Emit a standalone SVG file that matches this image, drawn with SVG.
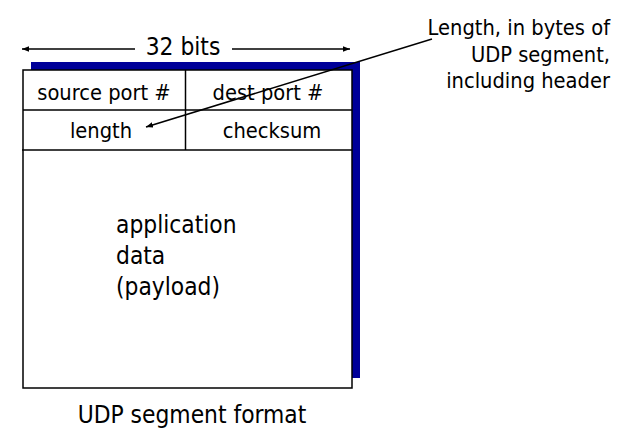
<svg xmlns="http://www.w3.org/2000/svg" width="625" height="440" viewBox="0 0 625 440">
<style>
text{font-family:"DejaVu Sans Condensed","DejaVu Sans",sans-serif;font-stretch:condensed;fill:#000}
.h{font-size:21.7px}
.b{font-size:24.3px}
.ln{stroke:#000;stroke-width:1.5;fill:none}
</style>
<defs>
<marker id="ah" viewBox="0 0 10 10" refX="10" refY="5" markerWidth="7" markerHeight="7" markerUnits="userSpaceOnUse" orient="auto"><path d="M0,1 L10,5 L0,9 Z" fill="#000"/></marker>
</defs>
<rect width="625" height="440" fill="#fff"/>
<g id="segment">
<rect x="31" y="62" width="329" height="316" fill="#000099"/>
<rect x="23" y="70" width="329" height="318" fill="#fff" stroke="#000" stroke-width="1.5"/>
<line x1="23" y1="110" x2="352" y2="110" class="ln"/>
<line x1="22" y1="150" x2="352" y2="150" class="ln"/>
<line x1="185.5" y1="70" x2="185.5" y2="150" class="ln"/>
</g>
<g id="src"><text class="h" x="104" y="100" text-anchor="middle">source port #</text></g>
<g id="dst"><text class="h" x="268" y="100" text-anchor="middle">dest port #</text></g>
<g id="len"><text class="h" x="101" y="138" text-anchor="middle">length</text></g>
<g id="chk"><text class="h" x="272" y="138" text-anchor="middle">checksum</text></g>
<g id="payload">
<text class="b" x="116" y="233">application</text>
<text class="b" x="116" y="264">data</text>
<text class="b" x="116" y="295">(payload)</text>
</g>
<g id="width"><text class="b" x="183" y="55" text-anchor="middle">32 bits</text></g>
<g id="note">
<text class="h" text-anchor="end" x="610" y="35">Length, in bytes of</text>
<text class="h" text-anchor="end" x="610" y="62">UDP segment,</text>
<text class="h" text-anchor="end" x="610" y="88">including header</text>
</g>
<g id="caption"><text class="b" x="192" y="423" text-anchor="middle">UDP segment format</text></g>
<g id="connectors">
<line x1="135" y1="49" x2="22" y2="49" class="ln" marker-end="url(#ah)"/>
<line x1="232" y1="49" x2="350" y2="49" class="ln" marker-end="url(#ah)"/>
<line x1="432" y1="39" x2="146" y2="127" class="ln" marker-end="url(#ah)"/>
</g>
</svg>
